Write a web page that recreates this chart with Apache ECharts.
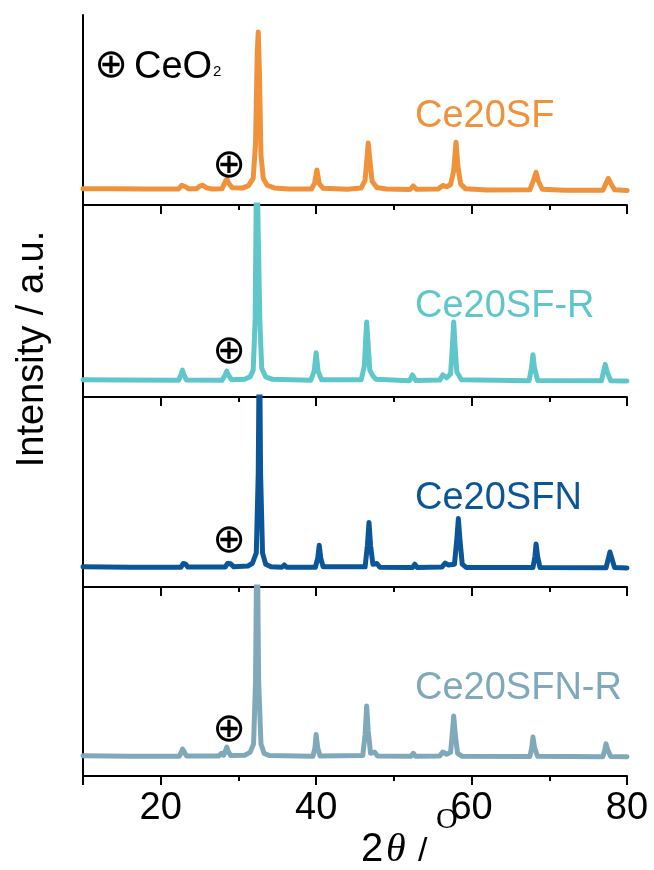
<!DOCTYPE html>
<html>
<head>
<meta charset="utf-8">
<script src="https://cdn.jsdelivr.net/npm/echarts@6/dist/echarts.min.js"></script>
<style>
  html,body{margin:0;padding:0;background:#fff}
  #chart{width:654px;height:870px}
</style>
</head>
<body>
<div id="chart"></div>
<script>
// 2θ range and ticks
const xMin = 10, xMax = 80
const majorTicks = [10, 20, 40, 60, 80]
const minorTicks = [30, 50, 70]
const tickLabels = [20, 40, 60, 80]

const sampleNames = ['Ce20SF', 'Ce20SF-R', 'Ce20SFN', 'Ce20SFN-R']
const sampleColors = ['#F0923A', '#5FC7CA', '#0B5699', '#7FA8BB']

// XRD patterns, [2θ, intensity (a.u.)]
const ce20sf = [[10,8.6],[14,8.5],[18,8.4],[22.3,8.4],[22.7,10.4],[22.9,11],[23.2,9.6],[23.6,8.5],[24.6,8.6],[25.1,10.1],[25.4,10.4],[25.9,9],[26.6,8.4],[27.9,8.6],[28.25,11.8],[28.5,13.8],[28.75,11.5],[29.2,9.1],[30.6,9],[31.3,10.2],[31.9,14],[32.2,32],[32.42,80],[32.55,91],[32.7,70],[32.9,26],[33.2,14],[33.7,10.4],[34.6,9],[36.5,8.4],[39.4,8.4],[39.8,11.5],[40.1,18.4],[40.4,11.2],[40.9,8.8],[44,8.3],[45.8,9],[46.3,13],[46.55,25],[46.7,32.6],[46.9,24],[47.2,12.5],[47.8,9.2],[49,8.4],[52.1,8.2],[52.5,10],[52.9,8.3],[55.7,8.4],[56.3,10.3],[56.8,9.6],[57.3,10.8],[57.7,18],[58.0,33],[58.25,20],[58.6,11],[59.2,8.6],[62,7.9],[67.5,8],[67.95,12.8],[68.3,17.2],[68.6,12.5],[69.1,8.3],[72,7.8],[76.9,7.8],[77.3,11.5],[77.6,14],[77.9,11.5],[78.4,8],[80,7.6]]
const ce20sfR = [[10,9],[15,8.8],[22.3,8.7],[22.65,12],[22.8,14],[22.95,12],[23.3,8.9],[27.9,8.7],[28.3,11.5],[28.5,13.5],[28.7,11.5],[29.1,9],[30.8,9.2],[31.5,10.5],[31.9,14],[32.15,40],[32.35,130],[32.55,130],[32.75,40],[33.0,15],[33.5,10.5],[34.4,9.2],[39.3,8.7],[39.75,13.5],[40.0,23],[40.25,13.5],[40.7,9],[45.8,9],[46.2,16],[46.4,32],[46.5,39],[46.65,30],[46.9,14],[47.3,11],[47.7,9.2],[52.0,8.5],[52.4,11.5],[52.8,8.6],[55.9,8.8],[56.3,11.5],[56.8,10],[57.3,12],[57.55,28],[57.7,39],[57.85,28],[58.1,13],[58.7,9],[67.4,8.4],[67.7,15],[67.9,22],[68.1,15],[68.5,8.6],[76.7,8.4],[77.0,13.5],[77.2,17],[77.45,13],[77.9,8.5],[80,8.3]]
const ce20sfn = [[10,10.6],[16,10.4],[22.6,10.4],[22.9,12.4],[23.0,13],[23.2,12],[23.5,10.5],[28.3,10.5],[28.6,12.4],[28.8,13],[29.0,12.2],[29.4,10.6],[31.2,11],[31.8,12.5],[32.3,18],[32.55,60],[32.7,140],[32.85,60],[33.1,18],[33.5,12],[34.2,10.6],[35.6,10.4],[35.9,11.6],[36.2,10.4],[39.9,10.4],[40.2,15],[40.4,22],[40.6,15],[40.9,10.6],[46.3,10.6],[46.6,22],[46.8,34],[47.0,22],[47.3,12],[47.8,12.4],[48.2,10.4],[52.4,10.3],[52.7,12],[53.0,10.3],[56.2,10.5],[56.6,12.6],[57.0,11.6],[57.8,12],[58.1,25],[58.3,36],[58.5,25],[58.8,12],[59.3,10.3],[67.9,10.2],[68.15,16],[68.3,22.6],[68.5,16],[68.8,10.3],[77.3,10.1],[77.6,15],[77.8,18.4],[78.05,15],[78.4,10.2],[80,10]]
const ce20sfnR = [[10,10.7],[16,10.5],[22.4,10.5],[22.7,13],[22.8,14.3],[23.0,13],[23.3,10.6],[27.5,10.6],[27.8,12],[28.1,11],[28.35,13.5],[28.5,15.3],[28.7,13],[29.0,10.8],[30.8,11],[31.5,12.5],[31.95,17],[32.2,50],[32.4,140],[32.6,50],[32.9,17],[33.3,12],[34.0,10.8],[39.6,10.5],[39.85,15],[40.0,22],[40.2,15],[40.5,10.6],[46.0,10.8],[46.3,22],[46.5,37],[46.7,24],[47.0,12],[47.5,12.7],[47.9,10.6],[52.2,10.4],[52.5,12],[52.8,10.4],[55.9,10.6],[56.3,12.7],[56.8,11.5],[57.3,12.5],[57.55,24],[57.7,31.7],[57.9,22],[58.2,12],[58.8,10.4],[67.5,10.3],[67.75,15],[67.9,20.6],[68.1,15],[68.5,10.4],[76.9,10.2],[77.15,14],[77.3,17],[77.5,14],[77.9,10.3],[80,10.2]]
const patterns = [ce20sf, ce20sfR, ce20sfn, ce20sfnR]

// CeO2 (111) marker, [2θ, intensity] per panel
const ceo2Marks = [[28.8,20.2],[28.8,23],[28.8,24],[28.8,24]]

const font = 'Liberation Sans, Arial, sans-serif'
const gridTops = [15, 205, 397, 587]
const gridHeights = [190, 192, 190, 189]

let chartInstance = echarts.init(document.getElementById('chart'), null, {renderer:'canvas'})

let grids = [], xAxes = [], yAxes = [], series = [], graphics = []
patterns.forEach((data, i) => {
  grids.push({left:83, right:27, top:gridTops[i], height:gridHeights[i]})
  let isLast = i === patterns.length - 1
  // main axis: line + major ticks (+ labels on the bottom panel)
  xAxes.push({
    gridIndex:i, type:'value', min:xMin, max:xMax, interval:10,
    axisLine:{show:true, onZero:false, lineStyle:{color:'#000', width:2}},
    axisTick:{show:true, length:9, customValues:majorTicks, lineStyle:{color:'#000', width:2}},
    axisLabel:{show:isLast, customValues:tickLabels, margin:14, color:'#000', fontSize:38, fontFamily:font},
    splitLine:{show:false}
  })
  // minor ticks
  xAxes.push({
    gridIndex:i, type:'value', min:xMin, max:xMax, interval:10, position:'bottom',
    axisLine:{show:false},
    axisTick:{show:true, length:5, customValues:minorTicks, lineStyle:{color:'#000', width:2}},
    axisLabel:{show:false},
    splitLine:{show:false}
  })
  yAxes.push({
    gridIndex:i, type:'value', min:0, max:100,
    axisLine:{show:true, lineStyle:{color:'#000', width:2}},
    axisTick:{show:false}, axisLabel:{show:false}, splitLine:{show:false}
  })
  series.push({
    type:'line', xAxisIndex:i*2, yAxisIndex:i, data:data,
    showSymbol:false, clip:true, color:sampleColors[i],
    lineStyle:{width:5, color:sampleColors[i], join:'round', cap:'round'},
    markPoint:{
      symbol:'circle', symbolSize:1, silent:true,
      itemStyle:{color:'rgba(0,0,0,0)'},
      label:{show:true, position:'inside', formatter:'\u2295', color:'#000', fontSize:40, fontFamily:'DejaVu Sans'},
      data:[{coord:ceo2Marks[i]}]
    }
  })
  graphics.push({
    type:'text', x:415, y:gridTops[i] + 102,
    style:{text:sampleNames[i], fill:sampleColors[i], font:'38px ' + font, verticalAlign:'middle'}
  })
})

// legend "⊕ CeO2"
graphics.push({type:'text', x:111, y:67, style:{text:'\u2295', fill:'#000', font:'40px DejaVu Sans', align:'center', verticalAlign:'middle'}})
graphics.push({type:'text', x:134, y:68, style:{text:'CeO', fill:'#000', font:'38px ' + font, verticalAlign:'middle'}})
graphics.push({type:'text', x:213, y:72, style:{text:'2', fill:'#000', font:'15px ' + font, verticalAlign:'middle'}})

// y title
graphics.push({type:'text', x:33, y:349, rotation:Math.PI/2,
  style:{text:'Intensity / a.u.', fill:'#000', font:'38px ' + font, align:'center', verticalAlign:'middle'}})

// x title "2θ / o"
graphics.push({type:'text', x:361, y:850, style:{text:'2', fill:'#000', font:'40px ' + font, verticalAlign:'middle'}})
graphics.push({type:'text', x:386, y:850, style:{text:'\u03B8', fill:'#000', font:'italic 40px Liberation Serif', verticalAlign:'middle'}})
graphics.push({type:'text', x:418, y:852, style:{text:'/', fill:'#000', font:'34px ' + font, verticalAlign:'middle'}})
graphics.push({type:'text', x:436, y:820, style:{text:'O', fill:'#000', font:'30px Liberation Serif', verticalAlign:'middle'}})

let option = {
  animation:false,
  backgroundColor:'#fff',
  grid:grids,
  xAxis:xAxes,
  yAxis:yAxes,
  series:series,
  graphic:graphics
}
chartInstance.setOption(option)
</script>
</body>
</html>
